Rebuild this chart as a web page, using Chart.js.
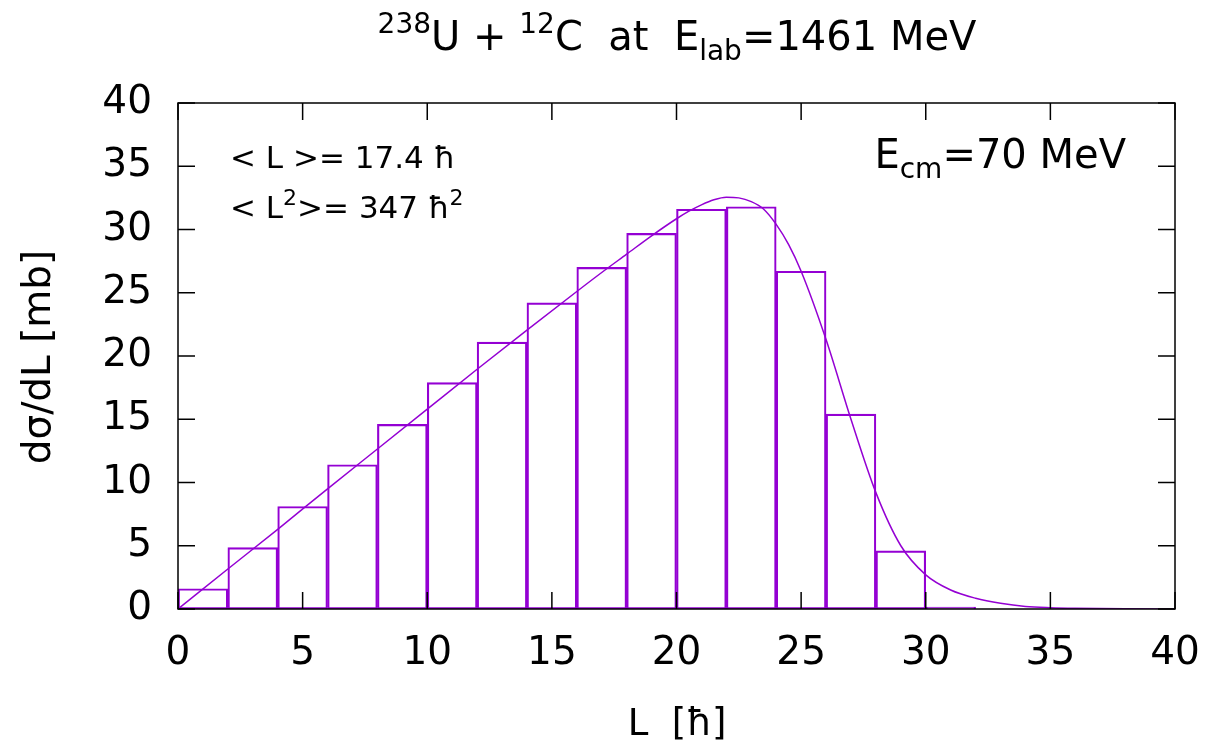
<!DOCTYPE html>
<html>
<head>
<meta charset="utf-8">
<script src="https://cdn.jsdelivr.net/npm/chart.js@4.4.1/dist/chart.umd.min.js"></script>
<style>
  html, body { margin: 0; padding: 0; background: #fff; }
  #wrap { width: 1209px; height: 745px; }
</style>
</head>
<body>
<div id="wrap"><canvas id="ctx"></canvas></div>
<script>
// histogram bins (centres of 2-hbar wide bins) and heights in mb
var binCentres = [1, 3, 5, 7, 9, 11, 13, 15, 17, 19, 21, 23, 25, 27, 29, 31];
var binValues = [1.6, 4.85, 8.1, 11.4, 14.6, 17.9, 21.1, 24.2, 27.0, 29.7, 31.6, 31.8, 26.7, 15.4, 4.6, 0.15];

// smooth curve
var curveL = [0, 2, 4, 6, 8, 10, 12, 14, 16, 17, 18, 19, 20, 20.5, 21, 21.5, 22, 22.5, 23, 23.5, 24, 24.5, 25, 26, 27, 28, 29, 30, 31, 32, 33, 34, 35, 36, 38, 40];
var curveV = [0, 3.16, 6.3, 9.5, 12.65, 15.8, 18.95, 22.05, 25.1, 26.6, 28.05, 29.5, 30.85, 31.45, 31.95, 32.35, 32.55, 32.5, 32.2, 31.6, 30.4, 28.8, 26.7, 21.3, 15.0, 9.2, 5.0, 2.7, 1.5, 0.85, 0.45, 0.2, 0.1, 0.05, 0.01, 0];

var xTicks = [0, 5, 10, 15, 20, 25, 30, 35, 40];
var yTicks = [0, 5, 10, 15, 20, 25, 30, 35, 40];

var purple = "#9400D3";
var fontName = "'DejaVu Sans', sans-serif";

// draw a run of text pieces, some raised or lowered
function richText(c, parts, x, y, size, align) {
    var small = Math.round(size * 0.7);
    var total = 0;
    parts.forEach(p => {
        c.font = (p[1] ? small : size) + "px " + fontName;
        total += c.measureText(p[0]).width;
    });
    var cx = x;
    if (align == "center") cx = x - total / 2;
    if (align == "right") cx = x - total;
    c.textAlign = "left";
    c.textBaseline = "alphabetic";
    parts.forEach(p => {
        var dy = 0;
        if (p[1] == "sup") dy = -size * 0.42;
        if (p[1] == "sub") dy = size * 0.25;
        c.font = (p[1] ? small : size) + "px " + fontName;
        c.fillText(p[0], cx, y + dy);
        cx += c.measureText(p[0]).width;
    });
}

var framePlugin = {
    id: "frame",
    afterDraw(chart) {
        var c = chart.ctx;
        var a = chart.chartArea;
        var xs = chart.scales.x;
        var ys = chart.scales.y;
        c.save();
        c.strokeStyle = "#000";
        c.lineWidth = 1.5;
        c.beginPath();
        xTicks.forEach(v => {
            var px = xs.getPixelForValue(v);
            c.moveTo(px, a.bottom); c.lineTo(px, a.bottom - 17);
            c.moveTo(px, a.top); c.lineTo(px, a.top + 17);
        });
        yTicks.forEach(v => {
            var py = ys.getPixelForValue(v);
            c.moveTo(a.left, py); c.lineTo(a.left + 17, py);
            c.moveTo(a.right, py); c.lineTo(a.right - 17, py);
        });
        c.stroke();
        c.strokeRect(a.left, a.top, a.right - a.left, a.bottom - a.top);

        c.fillStyle = "#000";
        richText(c, [["238", "sup"], ["U + ", ""], ["12", "sup"], ["C  at  E", ""], ["lab", "sub"], ["=1461 MeV", ""]], 677, 50, 40, "center");
        richText(c, [["< L >= 17.4 ħ", ""]], 230, 168, 31, "left");
        richText(c, [["< L", ""], ["2", "sup"], [">= 347 ħ", ""], ["2", "sup"]], 230, 218, 31, "left");
        richText(c, [["E", ""], ["cm", "sub"], ["=70 MeV", ""]], 1126, 168, 40, "right");
        richText(c, [["L  [ħ]", ""]], 677, 735, 37, "center");

        c.save();
        c.translate(50, 357);
        c.rotate(-Math.PI / 2);
        richText(c, [["dσ/dL [mb]", ""]], 0, 0, 39, "center");
        c.restore();
        c.restore();
    }
};

var histData = binCentres.map((x, i) => ({ x: x, y: binValues[i] }));
var curveData = curveL.map((x, i) => ({ x: x, y: curveV[i] }));

new Chart(document.getElementById("ctx"), {
    type: "bar",
    data: {
        datasets: [
            {
                type: "line",
                data: curveData,
                borderColor: purple,
                borderWidth: 1.5,
                pointRadius: 0,
                cubicInterpolationMode: "monotone",
                fill: false,
                order: 0
            },
            {
                type: "bar",
                data: histData,
                backgroundColor: "rgba(0,0,0,0)",
                borderColor: purple,
                borderWidth: 1.5,
                borderSkipped: false,
                barPercentage: 1.0,
                categoryPercentage: 1.0,
                order: 1
            }
        ]
    },
    options: {
        responsive: true,
        maintainAspectRatio: false,
        animation: false,
        layout: { padding: { top: 103, right: 34, left: 0, bottom: 0 } },
        plugins: { legend: { display: false }, tooltip: { enabled: false } },
        scales: {
            x: {
                type: "linear",
                min: 0,
                max: 40,
                offset: false,
                grid: { display: false, drawTicks: false },
                border: { display: false },
                afterBuildTicks: s => { s.ticks = xTicks.map(v => ({ value: v })); },
                afterFit: s => { s.height = 745 - 609; s.paddingLeft = 0; s.paddingRight = 0; },
                ticks: { color: "#000", font: { family: fontName, size: 39 }, padding: 21, maxRotation: 0 }
            },
            y: {
                min: 0,
                max: 40,
                grid: { display: false, drawTicks: false },
                border: { display: false },
                afterBuildTicks: s => { s.ticks = yTicks.map(v => ({ value: v })); },
                afterFit: s => { s.width = 178; s.paddingTop = 0; s.paddingBottom = 0; },
                ticks: { color: "#000", font: { family: fontName, size: 39 }, padding: 26 }
            }
        }
    },
    plugins: [framePlugin]
});
</script>
</body>
</html>
